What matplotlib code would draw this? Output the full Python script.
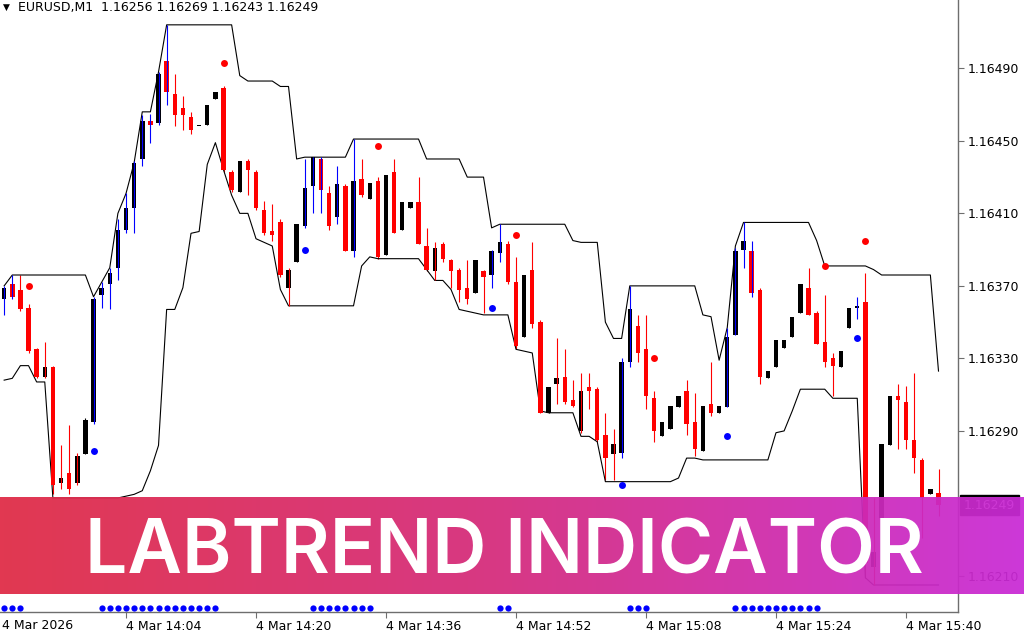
import numpy as np
import matplotlib.pyplot as plt
from matplotlib.transforms import blended_transform_factory
from matplotlib.colors import LinearSegmentedColormap

# EURUSD M1 bars, 13:49 .. 15:44 (bar 1 .. 116)
bars = list(range(1, 117))

opens = [1.16363, 1.16371, 1.16368, 1.16358, 1.16335, 1.16320, 1.16325, 1.16261, 1.16267, 1.16261,
         1.16277, 1.16295, 1.16365, 1.16371, 1.16380, 1.16401, 1.16413, 1.16440, 1.16461, 1.16460,
         1.16494, 1.16476, 1.16468, 1.16463, 1.16458, 1.16459, 1.16473, 1.16479, 1.16433, 1.16422,
         1.16439, 1.16433, 1.16412, 1.16400, 1.16405, 1.16369, 1.16383, 1.16403, 1.16425, 1.16440,
         1.16421, 1.16408, 1.16425, 1.16389, 1.16429, 1.16418, 1.16428, 1.16387, 1.16433, 1.16401,
         1.16413, 1.16416, 1.16392, 1.16378, 1.16393, 1.16384, 1.16379, 1.16369, 1.16366, 1.16378,
         1.16376, 1.16388, 1.16393, 1.16372, 1.16342, 1.16379, 1.16350, 1.16300, 1.16316, 1.16320,
         1.16307, 1.16290, 1.16314, 1.16313, 1.16288, 1.16277, 1.16278, 1.16328, 1.16348, 1.16335,
         1.16308, 1.16287, 1.16291, 1.16303, 1.16312, 1.16295, 1.16279, 1.16305, 1.16300, 1.16303,
         1.16343, 1.16390, 1.16389, 1.16368, 1.16319, 1.16325, 1.16336, 1.16342, 1.16355, 1.16369,
         1.16355, 1.16339, 1.16330, 1.16325, 1.16347, 1.16358, 1.16361, 1.16215, 1.16242, 1.16282,
         1.16309, 1.16306, 1.16285, 1.16274, 1.16255, 1.16256]

highs = [1.16370, 1.16376, 1.16376, 1.16360, 1.16336, 1.16339, 1.16326, 1.16282, 1.16293, 1.16278,
         1.16297, 1.16364, 1.16372, 1.16380, 1.16407, 1.16421, 1.16439, 1.16464, 1.16465, 1.16488,
         1.16514, 1.16487, 1.16475, 1.16466, 1.16458, 1.16470, 1.16477, 1.16480, 1.16434, 1.16439,
         1.16440, 1.16434, 1.16417, 1.16415, 1.16407, 1.16380, 1.16404, 1.16440, 1.16441, 1.16441,
         1.16425, 1.16436, 1.16426, 1.16451, 1.16440, 1.16427, 1.16430, 1.16431, 1.16440, 1.16416,
         1.16416, 1.16430, 1.16402, 1.16394, 1.16394, 1.16385, 1.16380, 1.16384, 1.16384, 1.16379,
         1.16390, 1.16404, 1.16395, 1.16386, 1.16376, 1.16394, 1.16351, 1.16314, 1.16341, 1.16335,
         1.16318, 1.16322, 1.16322, 1.16314, 1.16300, 1.16291, 1.16330, 1.16370, 1.16354, 1.16354,
         1.16312, 1.16295, 1.16304, 1.16309, 1.16318, 1.16311, 1.16304, 1.16328, 1.16304, 1.16347,
         1.16391, 1.16405, 1.16395, 1.16369, 1.16323, 1.16340, 1.16340, 1.16353, 1.16371, 1.16380,
         1.16356, 1.16365, 1.16333, 1.16334, 1.16358, 1.16364, 1.16377, 1.16253, 1.16283, 1.16309,
         1.16316, 1.16315, 1.16322, 1.16275, 1.16258, 1.16269]

lows = [1.16354, 1.16363, 1.16356, 1.16333, 1.16319, 1.16319, 1.16255, 1.16258, 1.16255, 1.16260,
        1.16277, 1.16294, 1.16358, 1.16357, 1.16373, 1.16399, 1.16399, 1.16436, 1.16449, 1.16459,
        1.16470, 1.16458, 1.16456, 1.16454, 1.16458, 1.16459, 1.16473, 1.16433, 1.16422, 1.16422,
        1.16420, 1.16412, 1.16398, 1.16395, 1.16375, 1.16359, 1.16383, 1.16402, 1.16410, 1.16410,
        1.16401, 1.16404, 1.16389, 1.16386, 1.16419, 1.16418, 1.16385, 1.16387, 1.16399, 1.16401,
        1.16413, 1.16393, 1.16378, 1.16373, 1.16383, 1.16369, 1.16361, 1.16360, 1.16366, 1.16355,
        1.16369, 1.16383, 1.16371, 1.16335, 1.16342, 1.16347, 1.16300, 1.16300, 1.16305, 1.16305,
        1.16303, 1.16289, 1.16302, 1.16284, 1.16263, 1.16263, 1.16275, 1.16325, 1.16328, 1.16302,
        1.16284, 1.16287, 1.16291, 1.16303, 1.16288, 1.16276, 1.16279, 1.16298, 1.16300, 1.16303,
        1.16343, 1.16380, 1.16364, 1.16316, 1.16319, 1.16325, 1.16336, 1.16342, 1.16355, 1.16354,
        1.16338, 1.16325, 1.16309, 1.16325, 1.16347, 1.16352, 1.16209, 1.16205, 1.16242, 1.16282,
        1.16280, 1.16280, 1.16267, 1.16231, 1.16255, 1.16243]

closes = [1.16369, 1.16364, 1.16357, 1.16334, 1.16320, 1.16325, 1.16260, 1.16264, 1.16258, 1.16276,
          1.16296, 1.16363, 1.16369, 1.16377, 1.16401, 1.16413, 1.16438, 1.16461, 1.16459, 1.16487,
          1.16477, 1.16464, 1.16464, 1.16456, 1.16458, 1.16470, 1.16477, 1.16434, 1.16423, 1.16439,
          1.16434, 1.16413, 1.16399, 1.16398, 1.16376, 1.16379, 1.16404, 1.16424, 1.16441, 1.16423,
          1.16403, 1.16426, 1.16389, 1.16428, 1.16420, 1.16427, 1.16386, 1.16431, 1.16399, 1.16416,
          1.16416, 1.16393, 1.16379, 1.16391, 1.16385, 1.16378, 1.16368, 1.16363, 1.16384, 1.16375,
          1.16389, 1.16394, 1.16372, 1.16337, 1.16376, 1.16349, 1.16300, 1.16314, 1.16319, 1.16306,
          1.16304, 1.16312, 1.16312, 1.16285, 1.16275, 1.16283, 1.16328, 1.16357, 1.16333, 1.16309,
          1.16290, 1.16295, 1.16304, 1.16309, 1.16294, 1.16280, 1.16304, 1.16300, 1.16304, 1.16342,
          1.16389, 1.16395, 1.16366, 1.16320, 1.16323, 1.16340, 1.16340, 1.16353, 1.16371, 1.16354,
          1.16338, 1.16328, 1.16326, 1.16334, 1.16358, 1.16359, 1.16217, 1.16223, 1.16283, 1.16309,
          1.16307, 1.16285, 1.16275, 1.16253, 1.16258, 1.16249]

# bars painted by the indicator (blue = up trend, red = down trend)
blue_bars = [1, 2, 12, 13, 14, 15, 16, 17, 18, 19, 20, 21, 38, 39, 40, 42, 44,
             61, 62, 77, 78, 90, 91, 92, 93, 106]
red_bars = [6, 8, 10, 36, 54, 69, 72, 76, 108]

upper_band = [1.16370, 1.16376, 1.16376, 1.16376, 1.16376, 1.16376, 1.16376, 1.16376, 1.16376, 1.16376,
              1.16376, 1.16364, 1.16372, 1.16380, 1.16410, 1.16421, 1.16438, 1.16466, 1.16466, 1.16488,
              1.16514, 1.16514, 1.16514, 1.16514, 1.16514, 1.16514, 1.16514, 1.16514, 1.16514, 1.16486,
              1.16483, 1.16483, 1.16483, 1.16483, 1.16480, 1.16480, 1.16440, 1.16441, 1.16441, 1.16441,
              1.16441, 1.16441, 1.16441, 1.16451, 1.16451, 1.16451, 1.16451, 1.16451, 1.16451, 1.16451,
              1.16451, 1.16451, 1.16440, 1.16440, 1.16440, 1.16440, 1.16440, 1.16430, 1.16430, 1.16430,
              1.16402, 1.16404, 1.16404, 1.16404, 1.16404, 1.16404, 1.16404, 1.16404, 1.16404, 1.16404,
              1.16395, 1.16394, 1.16394, 1.16394, 1.16350, 1.16341, 1.16341, 1.16370, 1.16370, 1.16370,
              1.16370, 1.16370, 1.16370, 1.16370, 1.16370, 1.16370, 1.16354, 1.16353, 1.16329, 1.16347,
              1.16392, 1.16405, 1.16405, 1.16405, 1.16405, 1.16405, 1.16405, 1.16405, 1.16405, 1.16405,
              1.16395, 1.16381, 1.16381, 1.16381, 1.16381, 1.16381, 1.16381, 1.16379, 1.16376, 1.16376,
              1.16376, 1.16376, 1.16376, 1.16376, 1.16376, 1.16323]

lower_band = [1.16318, 1.16319, 1.16326, 1.16326, 1.16317, 1.16317, 1.16253, 1.16253, 1.16253, 1.16253,
              1.16253, 1.16253, 1.16253, 1.16253, 1.16253, 1.16254, 1.16255, 1.16257, 1.16268, 1.16282,
              1.16357, 1.16357, 1.16369, 1.16399, 1.16400, 1.16437, 1.16449, 1.16434, 1.16420, 1.16410,
              1.16410, 1.16396, 1.16394, 1.16392, 1.16368, 1.16359, 1.16359, 1.16359, 1.16359, 1.16359,
              1.16359, 1.16359, 1.16359, 1.16359, 1.16381, 1.16386, 1.16385, 1.16385, 1.16385, 1.16385,
              1.16385, 1.16385, 1.16379, 1.16373, 1.16373, 1.16368, 1.16357, 1.16356, 1.16355, 1.16354,
              1.16354, 1.16354, 1.16354, 1.16335, 1.16334, 1.16333, 1.16301, 1.16300, 1.16300, 1.16300,
              1.16300, 1.16287, 1.16287, 1.16284, 1.16262, 1.16262, 1.16262, 1.16262, 1.16262, 1.16262,
              1.16262, 1.16262, 1.16262, 1.16264, 1.16275, 1.16275, 1.16274, 1.16274, 1.16274, 1.16274,
              1.16274, 1.16274, 1.16274, 1.16274, 1.16274, 1.16289, 1.16290, 1.16301, 1.16313, 1.16313,
              1.16313, 1.16313, 1.16308, 1.16308, 1.16308, 1.16308, 1.16209, 1.16205, 1.16205, 1.16205,
              1.16205, 1.16205, 1.16205, 1.16205, 1.16205, 1.16205]

# signal dots
sell_bars = [4, 28, 47, 64, 81, 102, 107]
sell_prices = [1.16370, 1.16493, 1.16447, 1.16398, 1.16330, 1.16381, 1.16395]
buy_bars = [12, 38, 61, 77, 90, 106]
buy_prices = [1.16279, 1.16390, 1.16358, 1.16260, 1.16287, 1.16341]

# trend dots along the bottom of the window
trend_dot_bars = [1, 2, 3, 13, 14, 15, 16, 17, 18, 19, 20, 21, 22, 23, 24, 25, 26, 27,
                  39, 40, 41, 42, 43, 44, 45, 46, 62, 63, 78, 79, 80,
                  91, 92, 93, 94, 95, 96, 97, 98, 99, 100, 101]

price_ticks = [1.16210, 1.16290, 1.16330, 1.16370, 1.16410, 1.16450, 1.16490]
time_ticks = [16, 32, 48, 64, 80, 96, 112]
time_labels = ["4 Mar 14:04", "4 Mar 14:20", "4 Mar 14:36", "4 Mar 14:52",
               "4 Mar 15:08", "4 Mar 15:24", "4 Mar 15:40"]
first_label = "4 Mar 2026"

title = "EURUSD,M1  1.16256 1.16269 1.16243 1.16249"
last_price = 1.16249
banner_text = "LABTREND INDICATOR"
banner_colors = ["#DF2A45", "#D52A7E", "#C92AD6"]

plt.rcParams['font.family'] = ['DejaVu Sans']

fig = plt.figure(figsize=(10.24, 6.4), dpi=100)
ax = fig.add_axes([0, 28 / 640, 958 / 1024, 612 / 640])
ax.set_xlim(0.49, 118.4)
ax.set_ylim(1.161901, 1.165277)

x = np.array(bars)
o = np.array(opens)
h = np.array(highs)
l = np.array(lows)
c = np.array(closes)
bull = c >= o

# wicks (indicator-painted bars are drawn over the body)
painted = np.isin(x, blue_bars) | np.isin(x, red_bars)
wick_col = []
for xi, b in zip(x, bull):
    if xi in blue_bars:
        wick_col.append('#0000ff')
    elif xi in red_bars or not b:
        wick_col.append('#ff0000')
    else:
        wick_col.append('black')
wick_col = np.array(wick_col)
ax.vlines(x[~painted], l[~painted], h[~painted], colors=wick_col[~painted], linewidth=0.8, zorder=2)
ax.vlines(x[painted], l[painted], h[painted], colors=wick_col[painted], linewidth=0.8, zorder=4)

# bodies
body_bottom = np.minimum(o, c)
body_height = np.maximum(np.abs(c - o), 0.000006)
body_col = np.where(bull, 'black', '#ff0000')
ax.bar(x, body_height, bottom=body_bottom, width=0.55, color=body_col, linewidth=0, zorder=3)

# channel lines
ax.plot(x, upper_band, color='black', linewidth=0.8, zorder=2)
ax.plot(x, lower_band, color='black', linewidth=0.8, zorder=2)

# signals
ax.plot(sell_bars, sell_prices, 'o', color='#ff0000', markersize=5, markeredgewidth=0, zorder=5)
ax.plot(buy_bars, buy_prices, 'o', color='#0000ff', markersize=5, markeredgewidth=0, zorder=5)

trans_bottom = blended_transform_factory(ax.transData, ax.transAxes)
ax.plot(trend_dot_bars, [0.007] * len(trend_dot_bars), 'o', color='#0000ff', markersize=4.5,
        markeredgewidth=0, transform=trans_bottom, clip_on=False, zorder=5)

# axes styling
for side in ['top', 'left']:
    ax.spines[side].set_visible(False)
for side in ['right', 'bottom']:
    ax.spines[side].set_color('#6e6e6e')
    ax.spines[side].set_linewidth(1)

ax.yaxis.tick_right()
ax.set_yticks(price_ticks)
ax.set_yticklabels([f"{p:.5f}" for p in price_ticks])
ax.tick_params(axis='y', length=4, width=0.8, color='#6e6e6e', labelcolor='black', labelsize=9, pad=3)

ax.set_xticks(time_ticks)
ax.set_xticklabels(time_labels)
for lab in ax.get_xticklabels():
    lab.set_ha('left')
ax.tick_params(axis='x', length=4, width=0.8, color='#6e6e6e', labelcolor='black', labelsize=9, pad=2)
ax.text(0.002, -0.011, first_label, transform=ax.transAxes, ha='left', va='top', fontsize=9, clip_on=False)

# current price label
trans_right = blended_transform_factory(ax.transAxes, ax.transData)
ax.text(1 + 6 / 958, last_price, f"{last_price:.5f}", transform=trans_right, ha='left', va='center',
        fontsize=9, color='white', clip_on=False,
        bbox=dict(boxstyle='square,pad=0.3', fc='black', ec='black'))

# window caption
fig.text(3 / 1024, 1 - 7 / 640, "\u25bc", fontsize=6.5, ha='left', va='center')
fig.text(18 / 1024, 1 - 7 / 640, title, fontsize=9, ha='left', va='center')

# banner
bax = fig.add_axes([0, 46 / 640, 1, 97 / 640])
bax.set_axis_off()
cmap = LinearSegmentedColormap.from_list('banner', banner_colors)
grad = np.linspace(0, 1, 512).reshape(1, -1)
bax.imshow(grad, aspect='auto', cmap=cmap, extent=[0, 1, 0, 1], alpha=0.94)
bax.set_xlim(0, 1)
bax.set_ylim(0, 1)
bax.text(504.5 / 1024, 21 / 97, banner_text, color='white', fontsize=54, family='Inter',
         fontweight='semibold', ha='center', va='baseline')

fig.savefig('out.png', dpi=100)
